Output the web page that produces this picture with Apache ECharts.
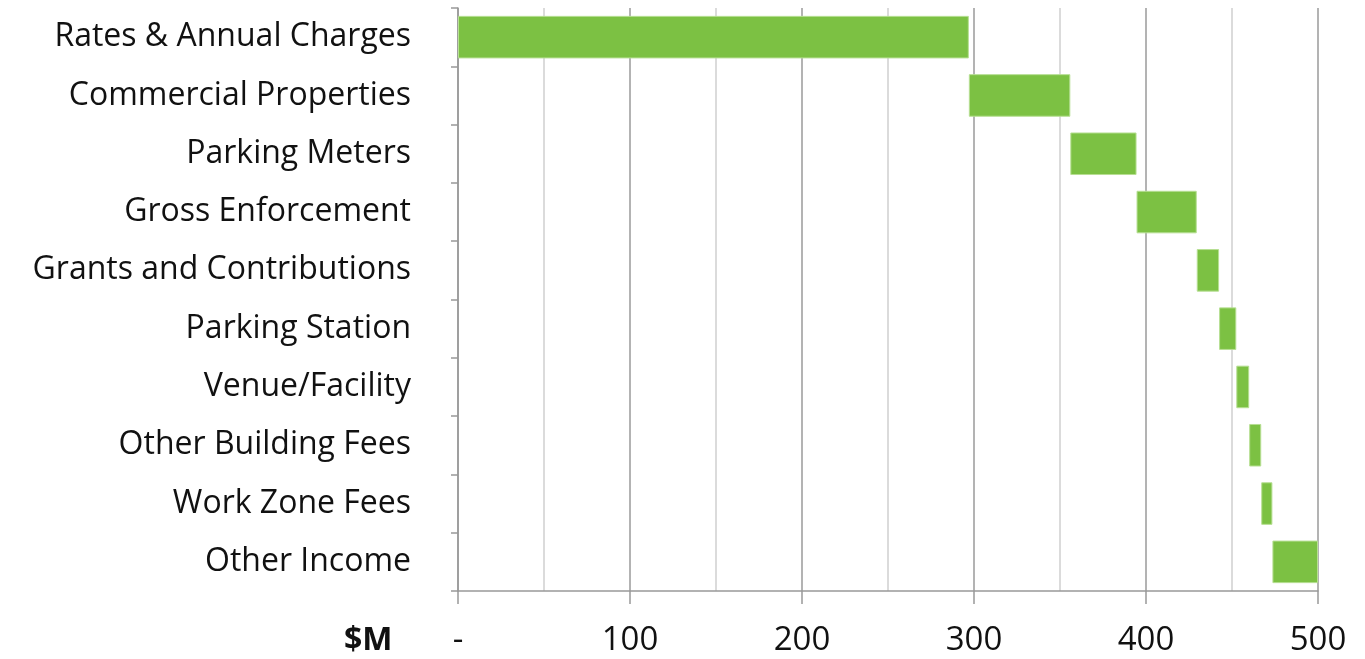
<!DOCTYPE html>
<html>
<head>
<meta charset="utf-8">
<script src="https://cdn.jsdelivr.net/npm/echarts@6/dist/echarts.min.js"></script>
<style>
  html, body { margin: 0; padding: 0; background: #fff; }
  #chart { width: 1365px; height: 659px; }
</style>
</head>
<body>
<div id="chart"></div>
<script>
// Income sources ($M), drawn as a waterfall: each bar starts where the previous one ended.
const categories = [
  'Rates & Annual Charges',
  'Commercial Properties',
  'Parking Meters',
  'Gross Enforcement',
  'Grants and Contributions',
  'Parking Station',
  'Venue/Facility',
  'Other Building Fees',
  'Work Zone Fees',
  'Other Income'
];
const values = [297, 59, 38.5, 35, 13, 10, 7.5, 7, 6.5, 26.5];
const tickLabels = { 0: '-', 100: '100', 200: '200', 300: '300', 400: '400', 500: '500' };

// invisible offsets = running total before each item
const offsets = [];
let running = 0;
values.forEach(v => { offsets.push(running); running += v; });

const FONT = '"Open Sans", Lato, sans-serif';
const chart = echarts.init(document.getElementById('chart'));

chart.setOption({
  animation: false,
  grid: { left: 458, right: 47, top: 8, bottom: 68, containLabel: false },
  xAxis: {
    type: 'value',
    min: 0,
    max: 500,
    interval: 100,
    axisLine: { show: true, lineStyle: { color: '#999', width: 1.5 } },
    axisTick: { show: true, length: 13, lineStyle: { color: '#999', width: 1.5 } },
    axisLabel: {
      margin: 33,
      fontFamily: FONT,
      fontSize: 33,
      color: '#111',
      formatter: v => tickLabels[v] ?? ''
    },
    splitLine: { show: true, lineStyle: { color: '#9a9a9a', width: 1.5 } },
    minorTick: { show: false, splitNumber: 2 },
    minorSplitLine: { show: true, lineStyle: { color: '#cfcfcf', width: 1.5 } }
  },
  yAxis: {
    type: 'category',
    inverse: true,
    data: categories,
    axisLine: { show: true, lineStyle: { color: '#999', width: 1.5 } },
    axisTick: { show: true, length: 7, lineStyle: { color: '#999', width: 1.5 } },
    axisLabel: {
      margin: 47,
      fontFamily: FONT,
      fontSize: 32,
      color: '#111',
      padding: [7, 0, 0, 0]
    },
    splitLine: { show: false }
  },
  graphic: [{
    type: 'text',
    left: 344,
    top: 625,
    style: { text: '$M', fontFamily: FONT, fontSize: 32, fontWeight: 'bold', fill: '#111' }
  }],
  series: [
    {
      name: 'offset',
      type: 'bar',
      stack: 'total',
      silent: true,
      itemStyle: { color: 'transparent' },
      data: offsets
    },
    {
      name: 'Income',
      type: 'bar',
      stack: 'total',
      barWidth: '73%',
      itemStyle: { color: '#7cc143', borderColor: '#b7df93', borderWidth: 1 },
      data: values
    }
  ]
});
</script>
</body>
</html>
